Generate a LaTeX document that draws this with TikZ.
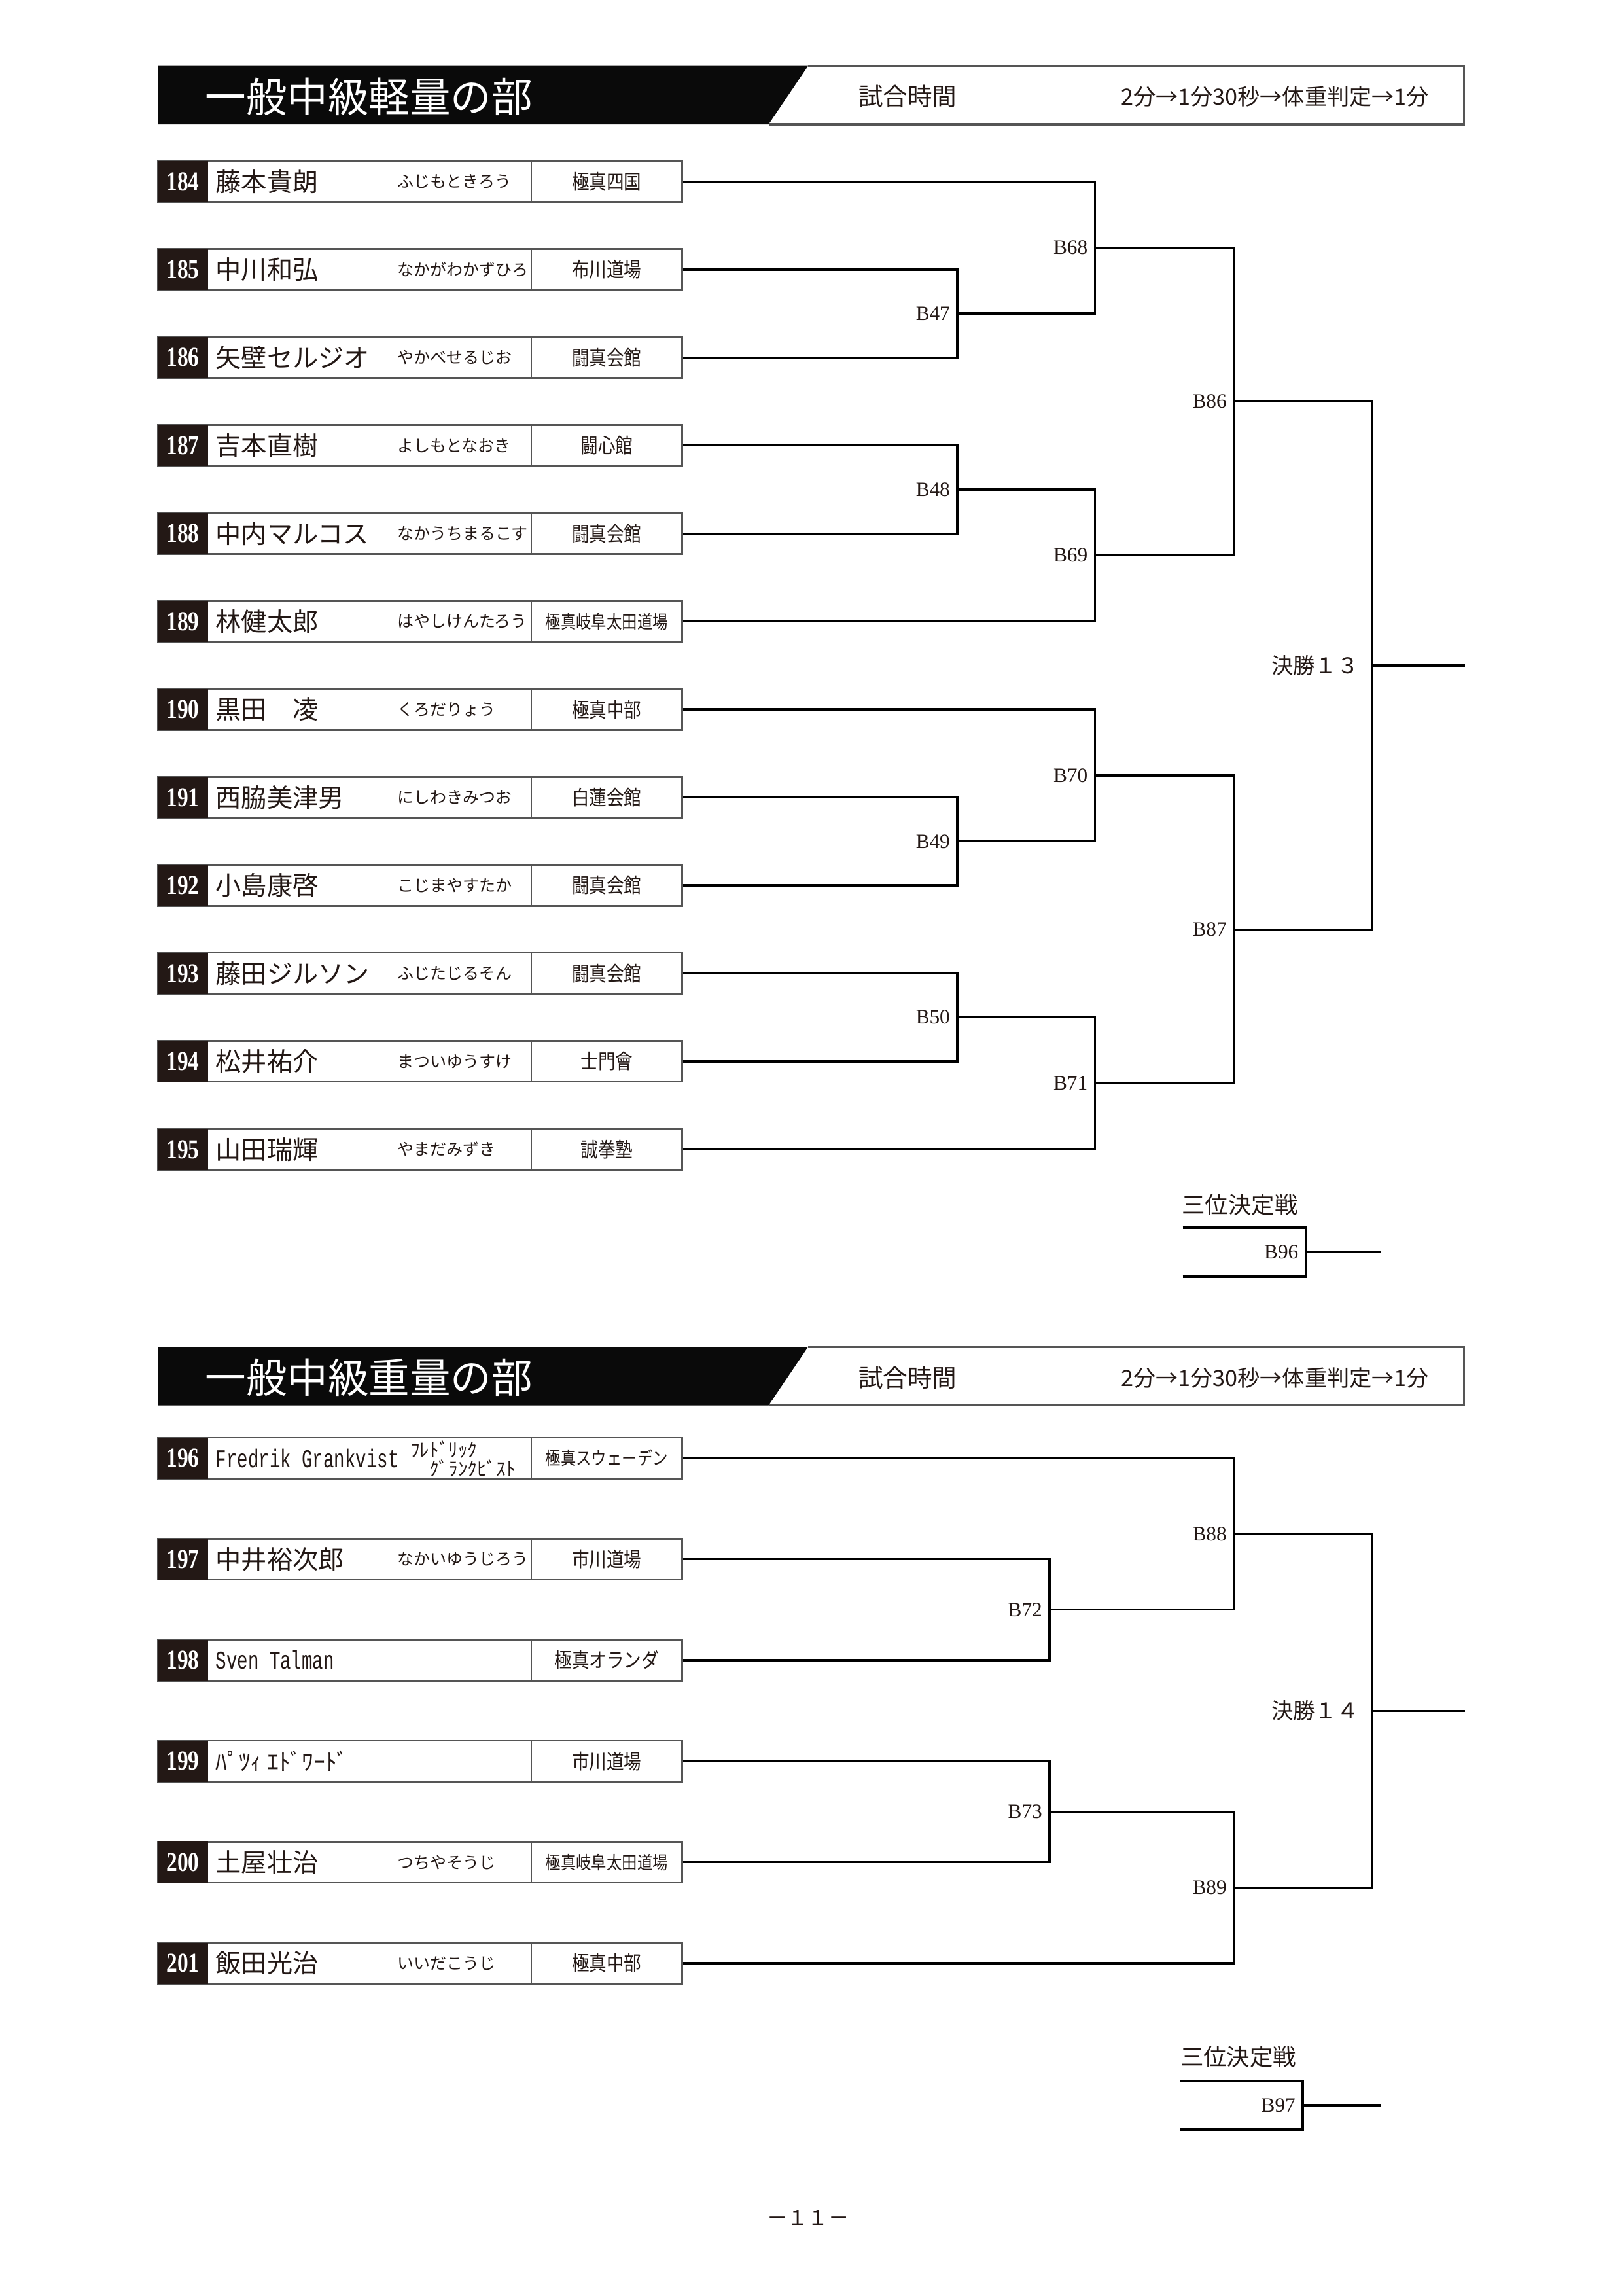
\documentclass[tikz,border=0pt]{standalone}
\usepackage{fontspec}
\setmainfont{Liberation Serif}
\newfontfamily\jp{Noto Sans CJK JP}
\newfontfamily\jpc[FakeStretch=0.85]{Noto Sans CJK JP}
\newfontfamily\numf[FakeStretch=0.8]{Liberation Serif}
\newfontfamily\latn[FakeStretch=0.7]{Liberation Mono}
\definecolor{ink}{HTML}{231815}
\definecolor{boxgray}{HTML}{555555}
\definecolor{headblack}{HTML}{0A0A0A}
\tikzset{
  conn/.style={line width=0.8pt, draw=black},
  rowbox/.style={draw=boxgray, line width=0.6pt, minimum width=192.1pt, minimum height=15.0pt, inner sep=0pt},
  numtext/.style={text=white, font=\numf\bfseries\fontsize{10}{11}\selectfont, inner sep=0pt},
  nametext/.style={anchor=west, font=\jp\fontsize{9.4}{10}\selectfont, inner sep=0pt, text=ink},
  kanatext/.style={anchor=west, font=\jp\fontsize{6}{7}\selectfont, inner sep=0pt, text=ink},
  dojotext/.style={font=\jpc\fontsize{7.5}{8}\selectfont, inner sep=0pt, text=ink},
  blabel/.style={anchor=east, font=\fontsize{7.5}{8}\selectfont, inner sep=0pt, xshift=-2.5pt, text=ink},
  flabel/.style={anchor=east, font=\jp\fontsize{8}{9}\selectfont, inner sep=0pt, xshift=-4.5pt, text=ink},
  hdrline/.style={draw=boxgray, line width=0.8pt},
  titletext/.style={text=white, font=\jp\fontsize{15}{16}\selectfont, inner sep=0pt},
  hdrtext/.style={font=\jp\fontsize{9}{10}\selectfont, inner sep=0pt, text=ink},
  timetext/.style={font=\jp\fontsize{8.2}{9}\selectfont, inner sep=0pt, text=ink},
  tptext/.style={anchor=west, font=\jp\fontsize{8.5}{9}\selectfont, inner sep=0pt, text=ink},
}
% #1 id, #2 y, #3 name, #4 kana, #5 dojo
\newcommand\entry[5]{%
  \node[rowbox] (r#1) at (287,#2) {};
  \fill[ink] (108,{#2-14}) rectangle (142,{#2+14});
  \draw[boxgray, line width=0.6pt] (363,{#2-14}) -- (363,{#2+14});
  \node[numtext] (n#1) at (125,#2) {#1};
  \node[nametext] (m#1) at (147,#2) {#3};
  \node[kanatext] (k#1) at (271,#2) {#4};
  \node[dojotext] (d#1) at (414.5,#2) {#5};
}
% #1 id, #2 top y, #3 title
\newcommand\header[3]{%
  \fill[headblack] (108,#2) -- (552,#2) -- (525,{#2+40}) -- (108,{#2+40}) -- cycle;
  \draw[hdrline] (552,#2) -- (1000,#2) -- (1000,{#2+40}) -- (525,{#2+40});
  \node[titletext] (ht#1) at (252,{#2+21}) {#3};
  \node[hdrtext] (hs#1) at (620,{#2+21}) {試合時間};
  \node[timetext] (hm#1) at (871,{#2+21}) {2分→1分30秒→体重判定→1分};
}
\begin{document}
\begin{tikzpicture}[x=0.5366pt, y=-0.5366pt]
\useasboundingbox[fill=white] (0,0) rectangle (1109.4,1567.6);

% ===== Section 1 =====
\header{A}{45}{一般中級軽量の部}
\entry{184}{124}{藤本貴朗}{ふじもときろう}{極真四国}
\entry{185}{184.1}{中川和弘}{なかがわかずひろ}{布川道場}
\entry{186}{244.2}{矢壁セルジオ}{やかべせるじお}{闘真会館}
\entry{187}{304.3}{吉本直樹}{よしもとなおき}{闘心館}
\entry{188}{364.4}{中内マルコス}{なかうちまるこす}{闘真会館}
\entry{189}{424.5}{林健太郎}{はやしけんたろう}{\fontsize{6.6}{7}\selectfont 極真岐阜太田道場}
\entry{190}{484.6}{黒田　凌}{くろだりょう}{極真中部}
\entry{191}{544.7}{西脇美津男}{にしわきみつお}{白蓮会館}
\entry{192}{604.8}{小島康啓}{こじまやすたか}{闘真会館}
\entry{193}{664.9}{藤田ジルソン}{ふじたじるそん}{闘真会館}
\entry{194}{725}{松井祐介}{まついゆうすけ}{士門會}
\entry{195}{785.1}{山田瑞輝}{やまだみずき}{誠拳塾}

\coordinate (B47) at (654,214.15);
\coordinate (B48) at (654,334.35);
\coordinate (B68) at (748,169.1);
\coordinate (B69) at (748,379.4);
\coordinate (B86) at (843,274.25);
\coordinate (B49) at (654,574.75);
\coordinate (B50) at (654,694.95);
\coordinate (B70) at (748,529.7);
\coordinate (B71) at (748,740);
\coordinate (B87) at (843,634.85);
\coordinate (F13) at (937,454.55);
\coordinate (F13e) at (1001,454.55);

\draw[conn] (r185.east) -| (B47);
\draw[conn] (r186.east) -| (B47);
\draw[conn] (r187.east) -| (B48);
\draw[conn] (r188.east) -| (B48);
\draw[conn] (r184.east) -| (B68);
\draw[conn] (B47) -| (B68);
\draw[conn] (B48) -| (B69);
\draw[conn] (r189.east) -| (B69);
\draw[conn] (B68) -| (B86);
\draw[conn] (B69) -| (B86);
\draw[conn] (r191.east) -| (B49);
\draw[conn] (r192.east) -| (B49);
\draw[conn] (r193.east) -| (B50);
\draw[conn] (r194.east) -| (B50);
\draw[conn] (r190.east) -| (B70);
\draw[conn] (B49) -| (B70);
\draw[conn] (B50) -| (B71);
\draw[conn] (r195.east) -| (B71);
\draw[conn] (B70) -| (B87);
\draw[conn] (B71) -| (B87);
\draw[conn] (B86) -| (F13);
\draw[conn] (B87) -| (F13);
\draw[conn] (F13) -- (F13e);

\node[blabel] (lB47) at (B47) {B47};
\node[blabel] (lB48) at (B48) {B48};
\node[blabel] (lB49) at (B49) {B49};
\node[blabel] (lB50) at (B50) {B50};
\node[blabel] (lB68) at (B68) {B68};
\node[blabel] (lB69) at (B69) {B69};
\node[blabel] (lB70) at (B70) {B70};
\node[blabel] (lB71) at (B71) {B71};
\node[blabel] (lB86) at (B86) {B86};
\node[blabel] (lB87) at (B87) {B87};
\node[flabel] (lF13) at (F13) {決勝１３};

% third place 1
\node[tptext] (tp1) at (807,823) {三位決定戦};
\coordinate (t1a) at (808,838.5);
\coordinate (t1b) at (808,872);
\coordinate (B96) at (892,855.25);
\coordinate (B96e) at (943,855.25);
\draw[conn] (t1a) -| (B96);
\draw[conn] (t1b) -| (B96);
\draw[conn] (B96) -- (B96e);
\node[blabel] (lB96) at (B96) {B96};

% ===== Section 2 =====
\header{B}{920}{一般中級重量の部}
\entry{196}{996}{\latn Fredrik Grankvist}{}{\fontsize{6.6}{7}\selectfont 極真スウェーデン}
\node[kanatext, font=\jp\fontsize{7}{7}\selectfont] (k196a) at (280,990) {ﾌﾚﾄﾞﾘｯｸ};
\node[kanatext, font=\jp\fontsize{7}{7}\selectfont] (k196b) at (293,1003) {ｸﾞﾗﾝｸﾋﾞｽﾄ};
\entry{197}{1065}{中井裕次郎}{なかいゆうじろう}{市川道場}
\entry{198}{1134}{\latn Sven Talman}{}{極真オランダ}
\entry{199}{1203}{\fontsize{8.5}{9}\selectfont ﾊﾟﾂｨ ｴﾄﾞﾜｰﾄﾞ}{}{市川道場}
\entry{200}{1272}{土屋壮治}{つちやそうじ}{\fontsize{6.6}{7}\selectfont 極真岐阜太田道場}
\entry{201}{1341}{飯田光治}{いいだこうじ}{極真中部}

\coordinate (B72) at (717,1099.5);
\coordinate (B73) at (717,1237.5);
\coordinate (B88) at (843,1047.75);
\coordinate (B89) at (843,1289.25);
\coordinate (F14) at (937,1168.5);
\coordinate (F14e) at (1001,1168.5);

\draw[conn] (r197.east) -| (B72);
\draw[conn] (r198.east) -| (B72);
\draw[conn] (r199.east) -| (B73);
\draw[conn] (r200.east) -| (B73);
\draw[conn] (r196.east) -| (B88);
\draw[conn] (B72) -| (B88);
\draw[conn] (B73) -| (B89);
\draw[conn] (r201.east) -| (B89);
\draw[conn] (B88) -| (F14);
\draw[conn] (B89) -| (F14);
\draw[conn] (F14) -- (F14e);

\node[blabel] (lB72) at (B72) {B72};
\node[blabel] (lB73) at (B73) {B73};
\node[blabel] (lB88) at (B88) {B88};
\node[blabel] (lB89) at (B89) {B89};
\node[flabel] (lF14) at (F14) {決勝１４};

% third place 2
\node[tptext] (tp2) at (806,1405) {三位決定戦};
\coordinate (t2a) at (806,1421.5);
\coordinate (t2b) at (806,1454.5);
\coordinate (B97) at (890,1438);
\coordinate (B97e) at (943,1438);
\draw[conn] (t2a) -| (B97);
\draw[conn] (t2b) -| (B97);
\draw[conn] (B97) -- (B97e);
\node[blabel] (lB97) at (B97) {B97};

% page number
\node[font=\jp\fontsize{7.5}{8}\selectfont, inner sep=0pt, text=ink] (pg) at (552,1515) {－１１－};
\end{tikzpicture}
\end{document}
